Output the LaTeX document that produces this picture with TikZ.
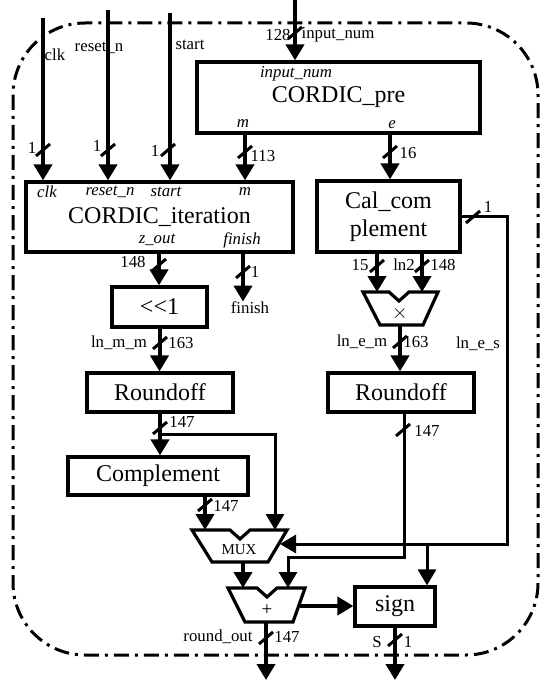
\documentclass[tikz,border=0pt]{standalone}
\usepackage{fontspec}
\setmainfont{Liberation Serif}
\usetikzlibrary{arrows.meta}

\tikzset{
  frame/.style={line width=1.5pt, dash pattern=on 7.5pt off 3pt on 1.5pt off 3pt, rounded corners=36pt},
  blk/.style={draw, line width=1.6pt, inner sep=1pt, align=center, font=\fontsize{12}{14}\selectfont},
  op/.style={draw, line width=1.6pt},
  sig/.style={line width=2pt, -{Triangle[length=8pt,width=9pt]}},
  wire/.style={line width=1.5pt},
  sigthin/.style={wire, -{Triangle[length=8pt,width=9pt]}},
  lbl/.style={inner sep=0pt, font=\fontsize{8.4}{9}\selectfont},
  port/.style={lbl, font=\fontsize{8.4}{9}\selectfont\itshape},
}
\newcommand{\busmark}[1]{\draw[wire] (#1) ++(-7,6) -- ++(14,-12);}

\begin{document}
\begin{tikzpicture}[x=0.5pt, y=-0.5pt]
    \useasboundingbox (0,0) rectangle (550,684);
    \draw[frame] (13,23) rectangle (538,655);

    % blocks
    \node[blk, minimum width=141.5pt, minimum height=35.5pt] (pre) at (338.5,97.5) {CORDIC\_pre};
    \node[blk, minimum width=133.5pt, minimum height=35pt] (iter) at (159.5,217) {CORDIC\_iteration};
    \node[blk, minimum width=71.5pt, minimum height=35.5pt] (cal) at (388.5,216.5) {Cal\_com\\plement};
    \node[blk, minimum width=47.5pt, minimum height=20pt] (shl) at (159.5,307) {\mbox{<}\mbox{<}1};
    \node[blk, minimum width=73pt, minimum height=19.5pt] (rndm) at (160,392.5) {Roundoff};
    \node[blk, minimum width=73pt, minimum height=19.5pt] (rnde) at (401,392.5) {Roundoff};
    \node[blk, minimum width=90pt, minimum height=19pt] (cmpl) at (158,476) {Complement};
    \node[blk, minimum width=40pt, minimum height=19.5pt] (sgn) at (395,606.5) {sign};

    % multiplier, mux and adder
    \draw[op] (363,292) -- (389,292) -- (399,301) -- (409,292) -- (438,292) -- (423,325) -- (380,325) -- cycle;
    \node[lbl, font=\fontsize{10}{10}\selectfont] (mul) at (400,313) {$\times$};
    \draw[op] (192,530) -- (230,530) -- (240,539) -- (250,530) -- (287,530) -- (268,562) -- (212,562) -- cycle;
    \node[lbl, font=\fontsize{7.5}{8}\selectfont] (mux) at (239,550) {MUX};
    \draw[op] (228,588) -- (257,588) -- (267,597) -- (277,588) -- (305,588) -- (293,622) -- (245,622) -- cycle;
    \node[lbl, font=\fontsize{9.5}{10}\selectfont] (add) at (267,610) {+};

    \coordinate (mulinl) at (377,292);
    \coordinate (mulinr) at (422,292);
    \coordinate (mulout) at (400,325);
    \coordinate (muxinl) at (205,530);
    \coordinate (muxinr) at (275,530);
    \coordinate (muxsel) at (280,544);
    \coordinate (muxout) at (243,562);
    \coordinate (addinl) at (243,588);
    \coordinate (addinr) at (288,588);
    \coordinate (addout) at (266,622);
    \coordinate (addres) at (299,606);

    % inputs, outputs and guides
    \coordinate (clkin) at (43,18);
    \coordinate (rstin) at (108,10);
    \coordinate (stin) at (170,13);
    \coordinate (numin) at (295,0);
    \coordinate (roundout) at (266,680);
    \coordinate (sout) at (395,680);
    \coordinate (mx) at (245,0);
    \coordinate (ex) at (390,0);
    \coordinate (zx) at (159,0);
    \coordinate (finx) at (243,0);
    \coordinate (rex) at (404,0);
    \coordinate (esx) at (507,0);
    \coordinate (sgx) at (427,0);

    % labels
    \node[lbl] (clkl) at (55,55) {clk};
    \node[lbl] (rstl) at (99,48) {reset\_n};
    \node[lbl] (stl) at (190,45) {start};
    \node[lbl] (w128) at (278,35) {128};
    \node[lbl] (numl) at (338,35) {input\_num};
    \node[lbl] (w1a) at (32,148) {1};
    \node[lbl] (w1b) at (97,146) {1};
    \node[lbl] (w1c) at (155,151) {1};
    \node[lbl] (w113) at (263,156) {113};
    \node[lbl] (w16) at (408,153) {16};
    \node[port] (pnum) at (296,74) {input\_num};
    \node[port] (pm) at (243,124) {m};
    \node[port] (pe) at (392,125) {e};
    \node[port] (pclk) at (47,192) {clk};
    \node[port] (prst) at (110,192) {reset\_n};
    \node[port] (pst) at (166,192) {start};
    \node[port] (pm2) at (245,192) {m};
    \node[port] (pz) at (157,240) {z\_out};
    \node[port] (pfin) at (242,240) {finish};
    \node[lbl] (w148a) at (133,262) {148};
    \node[lbl] (w1d) at (255,272) {1};
    \node[lbl] (finish) at (250,308) {finish};
    \node[lbl] (lnmm) at (119,343) {ln\_m\_m};
    \node[lbl] (w163a) at (181,343) {163};
    \node[lbl] (w147a) at (182,422) {147};
    \node[lbl] (w147b) at (226,506) {147};
    \node[lbl] (w15) at (360,265) {15};
    \node[lbl] (ln2) at (404,265) {ln2};
    \node[lbl] (w148b) at (443,265) {148};
    \node[lbl] (lnem) at (362,342) {ln\_e\_m};
    \node[lbl] (w163b) at (416,342) {163};
    \node[lbl] (w1e) at (488,207) {1};
    \node[lbl] (lnes) at (478,344) {ln\_e\_s};
    \node[lbl] (w147c) at (427,431) {147};
    \node[lbl] (rout) at (218,637) {round\_out};
    \node[lbl] (w147d) at (287,637) {147};
    \node[lbl] (sl) at (377,642) {S};
    \node[lbl] (w1f) at (408,642) {1};

    % connections
    \draw[sig] (clkin) -- (clkin |- iter.north);
    \draw[sig] (rstin) -- (rstin |- iter.north);
    \draw[sig] (stin) -- (stin |- iter.north);
    \draw[sig] (numin) -- (numin |- pre.north);
    \draw[sig] (mx |- pre.south) -- (mx |- iter.north);
    \draw[sig] (ex |- pre.south) -- (ex |- cal.north);
    \draw[sig] (zx |- iter.south) -- (zx |- shl.north);
    \draw[sig] (finx |- iter.south) -- (finx |- finish.north);
    \draw[sig] (shl.south) -- (shl.south |- rndm.north);
    \draw[sig] (rndm.south) -- (rndm.south |- cmpl.north);
    \draw[sigthin] ([yshift=-10.5pt]rndm.south) -| (muxinr);
    \draw[sig] (cmpl.south -| muxinl) -- (muxinl);
    \draw[sig] (mulinl |- cal.south) -- (mulinl);
    \draw[sig] (mulinr |- cal.south) -- (mulinr);
    \draw[sig] (mulout) -- (mulout |- rnde.north);
    \draw[sigthin] (rex |- rnde.south) |- ([yshift=15.5pt]addinr) -- (addinr);
    \draw[sigthin] (cal.east) -| (esx |- muxsel) -- (muxsel);
    \draw[sigthin] (sgx |- muxsel) -- (sgx |- sgn.north);
    \draw[sig] (muxout) -- (addinl);
    \draw[sig] (addres) -- (addres -| sgn.west);
    \draw[sig] (addout) -- (roundout);
    \draw[sig] (sgn.south) -- (sout);

    % bus widths
    \busmark{43,150} \busmark{108,150} \busmark{168,150} \busmark{245,152}
    \busmark{295,33} \busmark{390,152} \busmark{159,265} \busmark{243,272}
    \busmark{160,343} \busmark{160,428} \busmark{205,505} \busmark{403,430}
    \busmark{473,217} \busmark{377,266} \busmark{422,266} \busmark{400,342}
    \busmark{266,638} \busmark{395,640}
\end{tikzpicture}
\end{document}
